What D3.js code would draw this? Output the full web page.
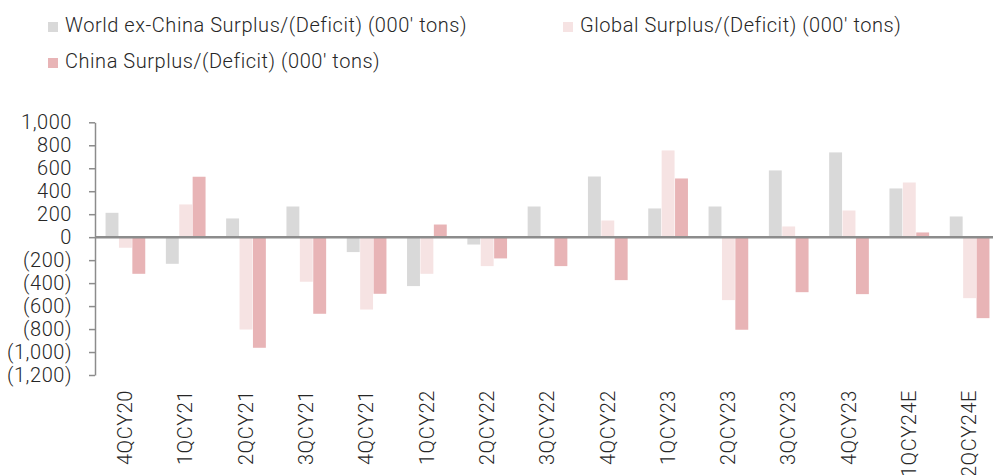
<!DOCTYPE html>
<html>
<head>
<meta charset="utf-8">
<script src="https://cdn.jsdelivr.net/npm/d3@7"></script>
<style>
 body { margin:0; background:#fff; }
 text { font-family: Roboto, "Liberation Sans", sans-serif; font-weight:300; fill:#262626; letter-spacing:0.55px; }
</style>
</head>
<body>
<div id="chart"></div>
<script>
// quarters on the x axis
var categories = ["4QCY20","1QCY21","2QCY21","3QCY21","4QCY21","1QCY22","2QCY22","3QCY22",
                  "4QCY22","1QCY23","2QCY23","3QCY23","4QCY23","1QCY24E","2QCY24E"];
// series values, 000' tons
var worldExChina = [212,-232,163,267,-130,-426,-64,267,528,250,267,581,738,424,180];
var globalSurplus = [-92,285,-804,-388,-630,-319,-252,0,145,755,-548,93,232,476,-531];
var chinaSurplus = [-319,526,-963,-667,-493,110,-185,-252,-374,511,-806,-479,-496,41,-705];
var yTicks = [1000,800,600,400,200,0,-200,-400,-600,-800,-1000,-1200];

var seriesNames = ["World ex-China Surplus/(Deficit) (000' tons)",
                   "Global Surplus/(Deficit) (000' tons)",
                   "China Surplus/(Deficit) (000' tons)"];
var colors = ["#d9d9d9","#f6e3e3","#e8b4b6"];

var W = 993, H = 475;
var svg = d3.select("#chart").append("svg")
    .attr("width", W)
    .attr("height", H);

var x0 = 95, step = 60.3;
var x = d3.scaleBand()
    .domain(categories)
    .range([x0, x0 + step * categories.length])
    .paddingInner(0)
    .paddingOuter(0);
var y = d3.scaleLinear()
    .domain([-1200, 1000])
    .range([375, 122.3]);

var barW = 13.4;
var groupW = barW * 3;

function fmt(v) {
  var s = d3.format(",")(Math.abs(v));
  return v < 0 ? "(" + s + ")" : s;
}

// bars
var allSeries = [worldExChina, globalSurplus, chinaSurplus];
allSeries.forEach(function (vals, s) {
  svg.append("g").selectAll("rect")
    .data(vals)
    .enter()
    .append("rect")
    .attr("x", function (d, i) { return x(categories[i]) + x.bandwidth() / 2 - groupW / 2 + s * barW + 0.5; })
    .attr("width", barW - 0.5)
    .attr("y", function (d) { return y(Math.max(0, d)); })
    .attr("height", function (d) { return Math.abs(y(d) - y(0)); })
    .attr("fill", colors[s]);
});

// y axis
var yAxis = svg.append("g")
    .attr("transform", "translate(" + x0 + ",0)")
    .call(d3.axisLeft(y).tickValues(yTicks).tickFormat(fmt).tickSizeInner(6).tickSizeOuter(0).tickPadding(17));
yAxis.select(".domain").attr("stroke", "#8c8c8c").attr("stroke-width", 1.5);
yAxis.selectAll(".tick line").attr("stroke", "#8c8c8c").attr("stroke-width", 1.5);
yAxis.selectAll(".tick text")
    .attr("font-size", "20px")
    .attr("font-family", null)
    .attr("fill", "#262626");

// zero line
svg.append("line")
    .attr("x1", x0).attr("x2", W)
    .attr("y1", y(0)).attr("y2", y(0))
    .attr("stroke", "#8c8c8c")
    .attr("stroke-width", 2.5);

// x labels
svg.append("g").selectAll("text")
    .data(categories)
    .enter()
    .append("text")
    .attr("transform", function (d) { return "translate(" + (x(d) + x.bandwidth() / 2) + ",390) rotate(-90)"; })
    .attr("text-anchor", "end")
    .attr("dy", "0.35em")
    .attr("font-size", "20px")
    .text(function (d) { return d; });

// legend
var legendPos = [[48, 32], [563, 32], [48, 68]];
seriesNames.forEach(function (name, i) {
  var g = svg.append("g").attr("transform", "translate(" + legendPos[i][0] + "," + legendPos[i][1] + ")");
  g.append("rect").attr("x", 0).attr("y", -10).attr("width", 10).attr("height", 10).attr("fill", colors[i]);
  g.append("text").attr("x", 17).attr("y", 0).attr("font-size", "20px").text(name);
});
</script>
</body>
</html>
